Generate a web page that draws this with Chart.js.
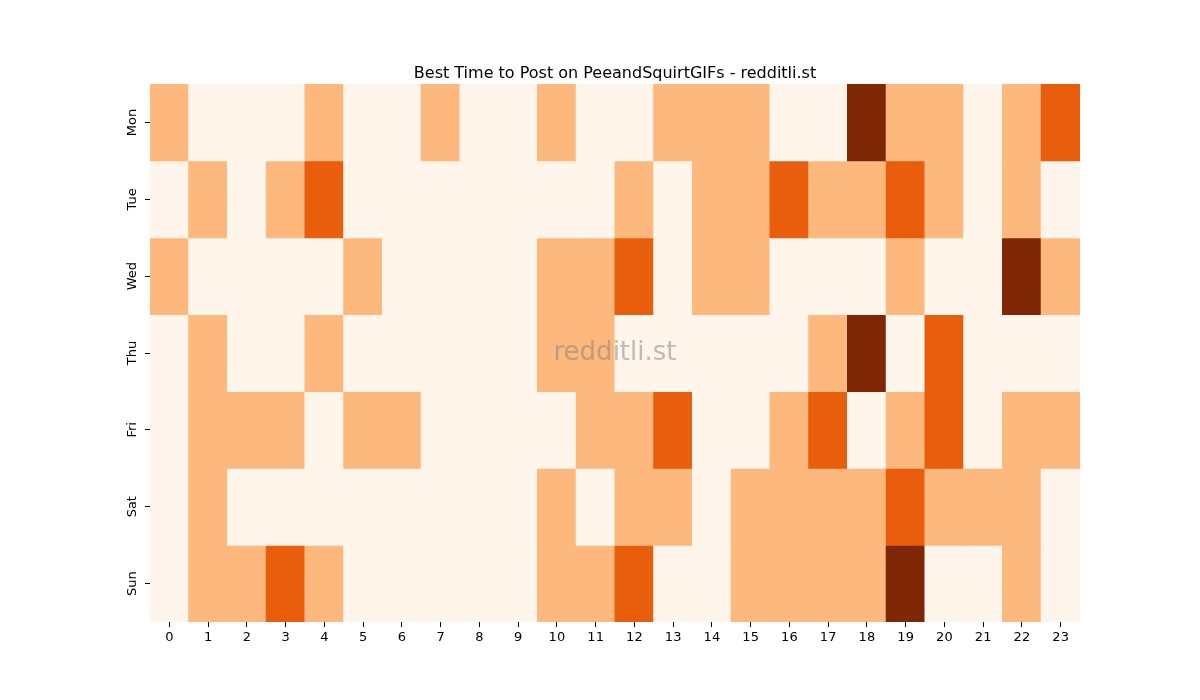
<!DOCTYPE html>
<html>
<head>
<meta charset="utf-8">
<script src="https://cdn.jsdelivr.net/npm/chart.js@4"></script>
<style>
  html, body { margin: 0; padding: 0; background: #fff; }
  #wrap { width: 1200px; height: 700px; }
</style>
</head>
<body>
<div id="wrap"><canvas id="heatmap" width="1200" height="700"></canvas></div>
<script>
const hours = ['0','1','2','3','4','5','6','7','8','9','10','11','12','13','14','15','16','17','18','19','20','21','22','23'];
const days = ['Mon', 'Tue', 'Wed', 'Thu', 'Fri', 'Sat', 'Sun'];
const title = 'Best Time to Post on PeeandSquirtGIFs - redditli.st';

// activity level per hour, 0..3
const mon = [1,0,0,0,1,0,0,1,0,0,1,0,0,1,1,1,0,0,3,1,1,0,1,2];
const tue = [0,1,0,1,2,0,0,0,0,0,0,0,1,0,1,1,2,1,1,2,1,0,1,0];
const wed = [1,0,0,0,0,1,0,0,0,0,1,1,2,0,1,1,0,0,0,1,0,0,3,1];
const thu = [0,1,0,0,1,0,0,0,0,0,1,1,0,0,0,0,0,1,3,0,2,0,0,0];
const fri = [0,1,1,1,0,1,1,0,0,0,0,1,1,2,0,0,1,2,0,1,2,0,1,1];
const sat = [0,1,0,0,0,0,0,0,0,0,1,0,1,1,0,1,1,1,1,2,1,1,1,0];
const sun = [0,1,1,2,1,0,0,0,0,0,1,1,2,0,0,1,1,1,1,3,0,0,1,0];
const rows = [mon, tue, wed, thu, fri, sat, sun];

const palette = ['#fff5eb', '#fdb97d', '#e95e0d', '#7f2704'];
const font = "'DejaVu Sans', sans-serif";

const datasets = rows.map((vals, i) => ({
  label: days[i],
  data: vals.map(() => 1),
  backgroundColor: vals.map(v => palette[v]),
  borderWidth: 0,
  barPercentage: 1,
  categoryPercentage: 1,
  inflateAmount: 0.5
}));

// title, rotated day labels and watermark, placed like matplotlib does
const overlay = {
  id: 'overlay',
  afterDraw(chart) {
    const { ctx, chartArea, scales } = chart;
    const cx = (chartArea.left + chartArea.right) / 2;
    ctx.save();
    ctx.fillStyle = '#000';
    ctx.textAlign = 'center';
    ctx.textBaseline = 'alphabetic';
    ctx.font = "16px " + font;
    ctx.fillText(title, cx, chartArea.top - 6);

    ctx.font = "13px " + font;
    ctx.textBaseline = 'middle';
    days.forEach((d, i) => {
      const y = scales.y.getPixelForValue(i + 0.5);
      ctx.save();
      ctx.translate(chartArea.left - 17, y);
      ctx.rotate(-Math.PI / 2);
      ctx.fillText(d, 0, 0);
      ctx.restore();
    });

    ctx.font = "26px " + font;
    ctx.fillStyle = 'rgba(128,128,128,0.5)';
    ctx.fillText('redditli.st', cx, (chartArea.top + chartArea.bottom) / 2);
    ctx.restore();
  }
};

new Chart(document.getElementById('heatmap').getContext('2d'), {
  type: 'bar',
  data: { labels: hours, datasets },
  plugins: [overlay],
  options: {
    responsive: false,
    animation: false,
    layout: { padding: { left: 0, right: 120, top: 84, bottom: 0 } },
    plugins: {
      legend: { display: false },
      tooltip: { enabled: false },
      title: { display: false }
    },
    scales: {
      x: {
        stacked: true,
        grid: { drawOnChartArea: false, drawTicks: true, tickLength: 5, color: '#000', offset: false },
        border: { display: false },
        ticks: { color: '#000', font: { family: font, size: 13 }, padding: 3, maxRotation: 0 },
        afterFit: s => { s.height = 78; }
      },
      y: {
        stacked: true,
        reverse: true,
        min: 0,
        max: 7,
        grid: { drawOnChartArea: false, drawTicks: true, tickLength: 5, color: '#000' },
        border: { display: false },
        afterBuildTicks: s => { s.ticks = days.map((d, i) => ({ value: i + 0.5 })); },
        ticks: { display: false },
        afterFit: s => { s.width = 150; }
      }
    }
  }
});
</script>
</body>
</html>
